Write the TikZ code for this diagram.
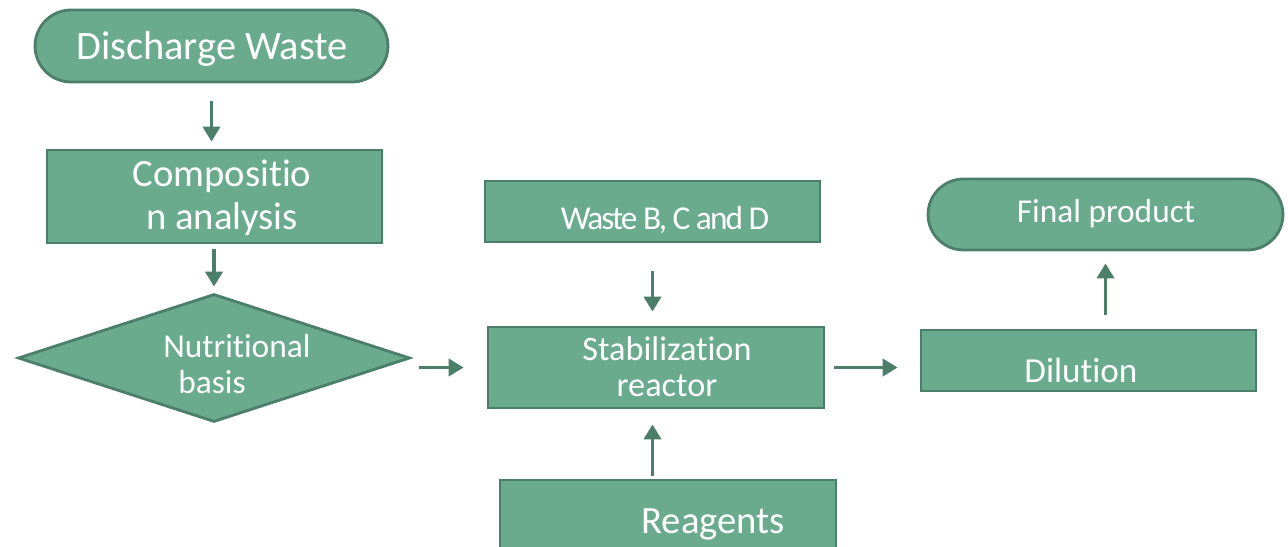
\documentclass[tikz,border=0pt]{standalone}
\usepackage{fontspec}
\setmainfont{Carlito}[RawFeature={-liga;-clig;-calt;-dlig}]
\usepackage{tikz}
\usetikzlibrary{arrows.meta,shapes,positioning,calc}

\definecolor{boxfill}{HTML}{6AAB8E}
\definecolor{boxline}{HTML}{4B7F69}

\begin{document}
\begin{tikzpicture}[x=0.02cm,y=-0.02cm,
  box/.style={draw=boxline,fill=boxfill,line width=1.6pt,rectangle,inner sep=0pt},
  term/.style={box,rounded rectangle,rounded rectangle arc length=180},
  lbl/.style={text=white,inner sep=0pt},
  arr/.style={draw=boxline,line width=2.2pt,-{Triangle[length=0.3cm,width=0.34cm]}}]
  \clip (0,0) rectangle (1288,547);

  % shapes
  \node[term,minimum width=7.06cm,minimum height=1.44cm] (disc) at (211.5,46) {};
  \node[box,minimum width=6.7cm,minimum height=1.86cm] (comp) at (214.5,196.5) {};
  \node[box,diamond,minimum width=7.84cm,minimum height=2.56cm] (dia) at (214,358) {};
  \node[box,minimum width=6.7cm,minimum height=1.22cm] (waste) at (652.5,211.5) {};
  \node[box,minimum width=6.72cm,minimum height=1.62cm] (stab) at (656,367.5) {};
  \node[box,minimum width=6.72cm,minimum height=2.0cm] (reag) at (668,530) {};
  \node[term,minimum width=7.1cm,minimum height=1.42cm] (fin) at (1105.5,214.5) {};
  \node[box,minimum width=6.7cm,minimum height=1.22cm] (dil) at (1088.5,360.5) {};

  % texts
  \node[lbl,font=\fontsize{23}{25}\selectfont] (t-disc) at (212,49) {Discharge Waste};
  \node[lbl,align=center,font=\fontsize{22}{24.5}\selectfont] (t-comp) at (222,198) {Compositio\\n analysis};
  \node[lbl,align=left,anchor=west,font=\fontsize{19}{20.5}\selectfont] (t-dia) at (163,364) {Nutritional\\ \hspace*{0.3cm}basis};
  \node[lbl,font=\fontsize{19}{20}\selectfont\addfontfeature{LetterSpace=-6}] (t-waste) at (665,220) {Waste B, C and D};
  \node[lbl,align=center,font=\fontsize{19.5}{20.5}\selectfont] (t-stab) at (667,367) {Stabilization\\reactor};
  \node[lbl,font=\fontsize{22}{24}\selectfont] (t-reag) at (713,524) {Reagents};
  \node[lbl,font=\fontsize{19}{22}\selectfont] (t-fin) at (1106,214) {Final product};
  \node[lbl,font=\fontsize{20}{22}\selectfont] (t-dil) at (1081,370) {Dilution};

  % arrows
  \draw[arr,shorten <=0.36cm,shorten >=0.14cm] (disc.south) -- (disc.south |- comp.north);
  \draw[arr,shorten <=0.1cm,shorten >=0.12cm] (dia.north |- comp.south) -- (dia.north);
  \draw[arr,shorten <=0.16cm,shorten >=0.46cm] (dia.east |- stab.west) -- (stab.west);
  \draw[arr,shorten <=0.56cm,shorten >=0.28cm] (waste.south) -- (waste.south |- stab.north);
  \draw[arr,shorten <=0.06cm,shorten >=0.3cm] (reag.north -| waste.south) -- (stab.south -| waste.south);
  \draw[arr,shorten <=0.18cm,shorten >=0.44cm] (stab.east) -- (stab.east -| dil.west);
  \draw[arr,shorten <=0.28cm,shorten >=0.24cm] (fin.south |- dil.north) -- (fin.south);
\end{tikzpicture}
\end{document}
